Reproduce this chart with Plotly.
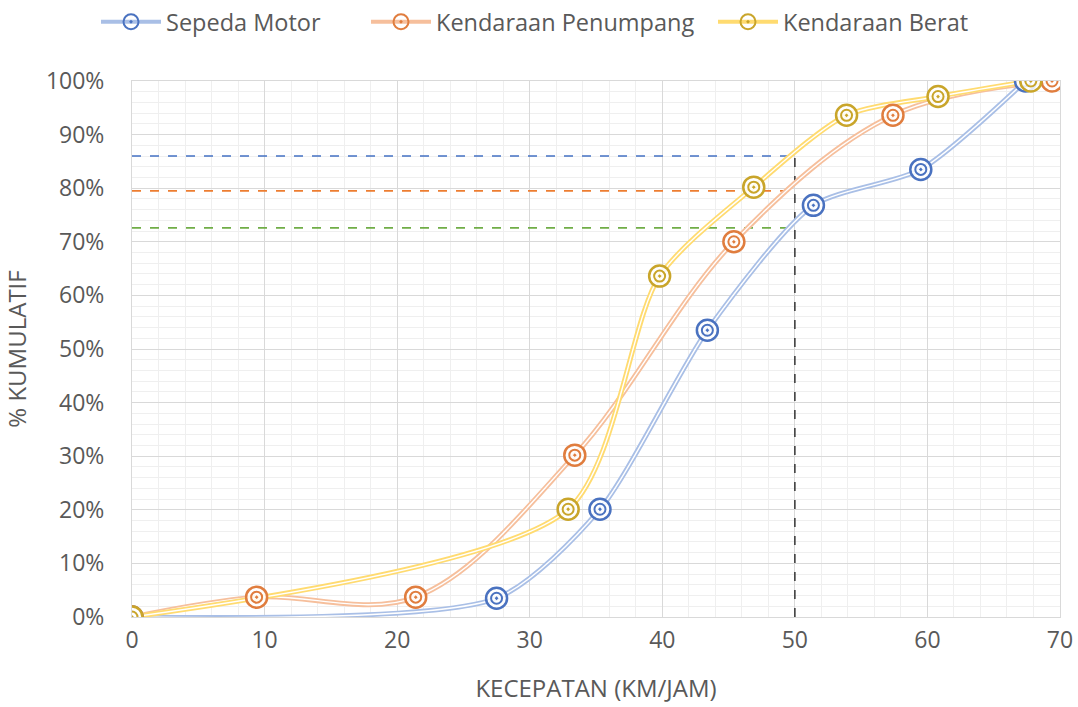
import plotly.graph_objects as go

# ---- data ----
motor_x = [0, 27.5, 35.3, 43.4, 51.4, 59.5, 67.4]
motor_y = [0, 0.035, 0.201, 0.535, 0.768, 0.835, 1.0]

penumpang_x = [0, 9.4, 21.4, 33.4, 45.4, 57.4, 69.4]
penumpang_y = [0, 0.037, 0.037, 0.302, 0.70, 0.936, 1.0]

berat_x = [0, 32.9, 39.8, 46.9, 53.9, 60.8, 67.8]
berat_y = [0, 0.201, 0.636, 0.802, 0.936, 0.971, 1.0]

ref_speed = 50
ref_motor = 0.86
ref_penumpang = 0.795
ref_berat = 0.726

series_names = ["Sepeda Motor", "Kendaraan Penumpang", "Kendaraan Berat"]
line_colors = ["#a9bfe6", "#f6bf9c", "#ffdb70"]
marker_colors = ["#4a72c0", "#e07d3e", "#c9a52a"]
smoothing = [0.7, 1.0, 0.75]
legend_left_px = [96, 366, 713]

FONT = "Open Sans"
GRAY = "#595959"
W, H = 1078, 707

fig = go.Figure()

# reference dashed lines
for val, col in [(ref_motor, "#4472C4"), (ref_penumpang, "#ED7D31"), (ref_berat, "#70AD47")]:
    fig.add_trace(go.Scatter(x=[0, ref_speed], y=[val, val], mode="lines",
                             line=dict(color=col, width=1.6, dash="dash"),
                             showlegend=False, hoverinfo="skip"))
fig.add_trace(go.Scatter(x=[ref_speed, ref_speed], y=[0, ref_motor], mode="lines",
                         line=dict(color="#404040", width=1.6, dash="dash"),
                         showlegend=False, hoverinfo="skip"))

data = [(motor_x, motor_y), (penumpang_x, penumpang_y), (berat_x, berat_y)]

# curves (double line effect)
for (xs, ys), lc, sm in zip(data, line_colors, smoothing):
    fig.add_trace(go.Scatter(x=xs, y=ys, mode="lines",
                             line=dict(color=lc, width=5, shape="spline", smoothing=sm),
                             showlegend=False, hoverinfo="skip"))
    fig.add_trace(go.Scatter(x=xs, y=ys, mode="lines",
                             line=dict(color="white", width=1.4, shape="spline", smoothing=sm),
                             showlegend=False, hoverinfo="skip"))

# markers
for (xs, ys), name, mc in zip(data, series_names, marker_colors):
    fig.add_trace(go.Scatter(x=xs, y=ys, mode="markers", name=name,
                             marker=dict(symbol="circle", size=21, color="rgba(255,255,255,0.85)",
                                         line=dict(color=mc, width=2.5)),
                             showlegend=False))
    fig.add_trace(go.Scatter(x=xs, y=ys, mode="markers",
                             marker=dict(symbol="circle-open-dot", size=11, color=mc,
                                         line=dict(color=mc, width=2)),
                             showlegend=False, hoverinfo="skip"))

# legend entries, each in its own legend box
legend_layout = {}
for i, (name, lc, mc, lx) in enumerate(zip(series_names, line_colors, marker_colors, legend_left_px)):
    key = "legend" if i == 0 else f"legend{i+1}"
    fig.add_trace(go.Scatter(x=[None], y=[None], mode="lines+markers", name=name,
                             line=dict(color=lc, width=4),
                             marker=dict(symbol="circle-open-dot", size=15, color=mc,
                                         line=dict(color=mc, width=2)),
                             showlegend=True, legend=key))
    legend_layout[key] = dict(orientation="h", xref="container", yref="container",
                              x=lx / W, xanchor="left", y=1 - 22 / H, yanchor="middle",
                              font=dict(size=23.5, color=GRAY, family=FONT), itemwidth=60,
                              bgcolor="rgba(0,0,0,0)")

fig.update_layout(
    width=W, height=H,
    margin=dict(l=132, r=18, t=81, b=90, autoexpand=False),
    paper_bgcolor="white", plot_bgcolor="white",
    font=dict(family=FONT, color=GRAY, size=23),
    xaxis=dict(range=[0, 70], dtick=10, tick0=0, showgrid=True, gridcolor="#d9d9d9", gridwidth=1,
               minor=dict(dtick=2, showgrid=True, gridcolor="#efefef", gridwidth=1),
               zeroline=False, showline=True, linecolor="#d9d9d9", mirror=True,
               ticks="", ticklabelstandoff=2, tickfont=dict(size=23, color=GRAY),
               title=dict(text="KECEPATAN (KM/JAM)", font=dict(size=24, color=GRAY), standoff=26)),
    yaxis=dict(range=[0, 1.0], dtick=0.1, tickformat=".0%", showgrid=True, gridcolor="#d9d9d9",
               gridwidth=1,
               minor=dict(dtick=0.02, showgrid=True, gridcolor="#efefef", gridwidth=1),
               zeroline=False, showline=True, linecolor="#d9d9d9", mirror=True,
               ticks="", ticklabelstandoff=22, tickfont=dict(size=23, color=GRAY),
               title=dict(text="% KUMULATIF", font=dict(size=24, color=GRAY), standoff=12)),
    **legend_layout,
)

fig.write_html("out.html")
